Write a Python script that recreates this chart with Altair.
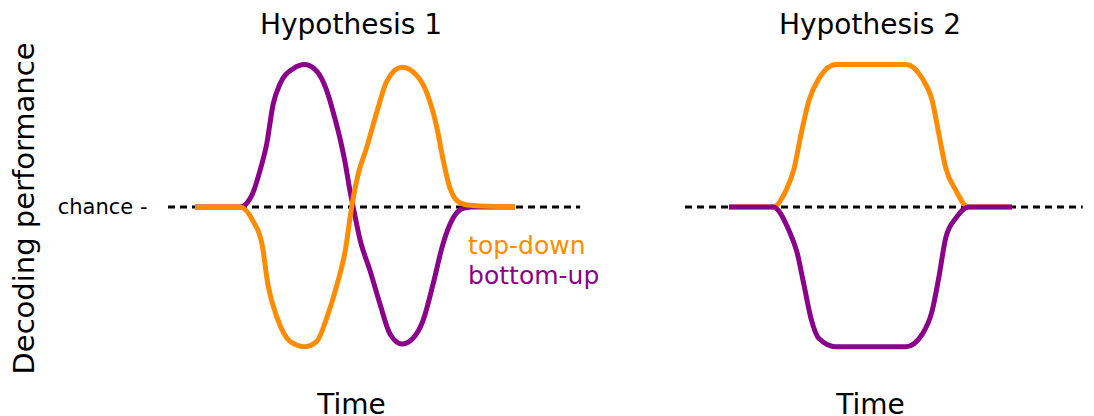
import altair as alt
import pandas as pd

FONT = "DejaVu Sans"

series_names = ["top-down", "bottom-up"]
series_colors = ["#FF8C00", "#8B008B"]
panel_titles = ["Hypothesis 1", "Hypothesis 2"]
x_title = "Time"
y_title = "Decoding performance"
chance_label = "chance -"
chance_level = [0.0]
chance_span_h1 = [0, 112.6]
chance_span_h2 = [0, 107.5]

# Hypothesis 1 (time in % of panel width, performance relative to chance)
h1_td_time = [7.4, 19.7, 23.2, 25.7, 27.3, 29.8, 33.3, 37.4, 40.7, 43.4, 46.2, 48.4, 50.3,
              51.9, 54.4, 57.1, 59.8, 63.9, 68.0, 70.8, 73.5, 75.1, 77.0, 79.8, 83.3, 94.8]
h1_td_perf = [0.0, 0.0, -0.10, -0.27, -0.56, -0.80, -0.97, -1.01, -0.97, -0.80, -0.56, -0.32, 0.02,
              0.23, 0.44, 0.69, 0.91, 1.01, 0.95, 0.82, 0.57, 0.35, 0.14, 0.03, 0.01, 0.0]
h1_bu_time = [7.4, 19.7, 23.0, 25.1, 27.0, 28.7, 30.6, 34.2, 37.4, 40.7, 43.4, 45.6, 47.3, 48.4,
              49.5, 50.6, 52.5, 55.2, 57.9, 60.7, 63.9, 66.9, 69.7, 72.4, 75.1, 77.9, 80.6, 83.3, 94.8]
h1_bu_perf = [0.0, 0.0, 0.09, 0.26, 0.46, 0.74, 0.89, 1.00, 1.03, 0.98, 0.84, 0.64, 0.46, 0.32,
              0.15, 0.0, -0.24, -0.46, -0.70, -0.92, -0.99, -0.95, -0.82, -0.56, -0.27, -0.08, -0.01, 0.0, 0.0]

# Hypothesis 2
h2_td_time = [11.9, 23.8, 27.3, 29.5, 31.4, 33.5, 36.2, 40.8, 59.7, 64.1, 66.8, 68.6, 70.5, 73.2, 76.5, 88.4]
h2_td_perf = [0.0, 0.0, 0.12, 0.28, 0.53, 0.77, 0.93, 1.03, 1.03, 0.93, 0.77, 0.53, 0.28, 0.12, 0.0, 0.0]
h2_bu_time = [11.9, 23.8, 28.1, 30.3, 32.2, 34.1, 36.2, 40.8, 59.7, 64.1, 66.8, 68.6, 70.5, 73.2, 76.8, 88.4]
h2_bu_perf = [0.0, 0.0, -0.17, -0.33, -0.57, -0.81, -0.95, -1.01, -1.01, -0.92, -0.75, -0.51, -0.22, -0.08, 0.0, 0.0]

legend_time = [82.0, 82.0]
legend_perf = [-0.34, -0.555]

color_scale = alt.Scale(domain=series_names, range=series_colors)
x_scale = alt.Scale(domain=[0, 100], nice=False, zero=False)
y_scale = alt.Scale(domain=[-1.2, 1.2], nice=False, zero=False)


def series_df(t, v, name):
    return pd.DataFrame({"time": t, "perf": v, "series": name})


def make_panel(title, td, bu, span, top_first, width, show_y, show_legend):
    x_axis = alt.Axis(title=x_title, labels=False, ticks=False, domain=False, grid=False,
                      titleFont=FONT, titleFontSize=28, titleFontWeight="normal", titleColor="black",
                      titleBaseline="alphabetic", titleY=40)
    if show_y:
        y_axis = alt.Axis(title=y_title, values=chance_level, labelExpr=f"'{chance_label}'",
                          ticks=False, domain=False, grid=False, labelPadding=21,
                          labelFont=FONT, labelFontSize=21, labelColor="black", labelLimit=300,
                          titleFont=FONT, titleFontSize=29, titleFontWeight="normal", titleColor="black",
                          titleBaseline="alphabetic", titleAlign="center", titleX=-135, titleY=167)
    else:
        y_axis = None
    x = alt.X("time:Q", scale=x_scale, axis=x_axis)
    y = alt.Y("perf:Q", scale=y_scale, axis=y_axis)

    rule_df = pd.DataFrame({"start": [span[0]], "end": [span[1]], "level": chance_level})
    rule = alt.Chart(rule_df).mark_rule(color="black", strokeWidth=3, strokeDash=[7, 5]).encode(
        x=alt.X("start:Q", scale=x_scale, axis=x_axis), x2="end:Q",
        y=alt.Y("level:Q", scale=y_scale, axis=y_axis))

    layers = [rule]
    order = [bu, td] if top_first == "top-down" else [td, bu]
    for d in order:
        layers.append(alt.Chart(d).mark_line(strokeWidth=5, interpolate="monotone").encode(
            x=x, y=y, color=alt.Color("series:N", scale=color_scale, legend=None)))
    if show_legend:
        leg_df = pd.DataFrame({"time": legend_time, "perf": legend_perf, "series": series_names})
        layers.append(alt.Chart(leg_df).mark_text(align="left", baseline="alphabetic", font=FONT,
                                                  fontSize=25).encode(
            x=x, y=y, text="series:N", color=alt.Color("series:N", scale=color_scale, legend=None)))
    return alt.layer(*layers).properties(
        width=width, height=332,
        title=alt.TitleParams(title, font=FONT, fontSize=28, fontWeight="normal", color="black",
                              anchor="middle", frame="group", baseline="alphabetic", offset=-21))


p1 = make_panel(panel_titles[0], series_df(h1_td_time, h1_td_perf, "top-down"),
                series_df(h1_bu_time, h1_bu_perf, "bottom-up"), chance_span_h1,
                "top-down", 366, True, True)
p2 = make_panel(panel_titles[1], series_df(h2_td_time, h2_td_perf, "top-down"),
                series_df(h2_bu_time, h2_bu_perf, "bottom-up"), chance_span_h2,
                "bottom-up", 370, False, False)

chart = alt.hconcat(p1, p2, spacing=151, bounds="flush").properties(
    padding={"left": 1, "top": 4, "right": 0, "bottom": 0}
).configure_view(stroke=None).configure_axis(labelFontSize=21)

chart.save("out.html", embed_options={"renderer": "svg", "actions": False})
